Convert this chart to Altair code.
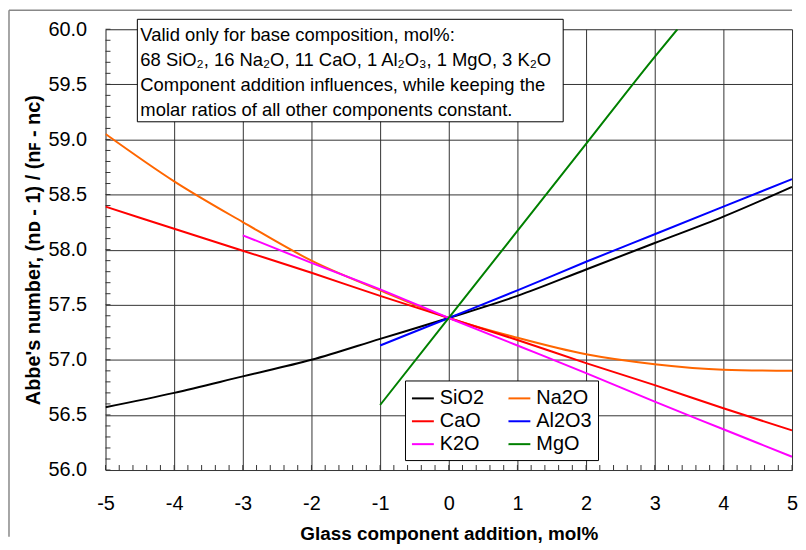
import altair as alt
import pandas as pd

FONT = "Liberation Sans"

# ---------------- data ----------------
# legend order (column-major in the 2-column legend)
components = ["SiO2", "CaO", "K2O", "Na2O", "Al2O3", "MgO"]
colors = ["#000000", "#FF0000", "#FF00FF", "#FF6600", "#0000FF", "#008000"]

x_sio2 = [-5, -4, -3, -2, -1, 0, 1, 2, 3, 4, 5]
y_sio2 = [56.57, 56.70, 56.85, 57.00, 57.19, 57.38, 57.58, 57.82, 58.06, 58.30, 58.57]

x_na2o = [-5, -4, -3, -2, -1, 0, 1, 2, 3, 4, 5]
y_na2o = [59.05, 58.62, 58.25, 57.90, 57.63, 57.38, 57.20, 57.05, 56.96, 56.91, 56.90]

x_cao = [-5, -4, -3, -2, -1, 0, 1, 2, 3, 4, 5]
y_cao = [58.39, 58.19, 57.99, 57.79, 57.58, 57.38, 57.18, 56.97, 56.77, 56.56, 56.36]

x_al2o3 = [-1, 0, 1, 2, 3, 4, 5]
y_al2o3 = [57.13, 57.38, 57.63, 57.89, 58.14, 58.39, 58.64]

x_k2o = [-3, -2, -1, 0, 1, 2, 3, 4, 5]
y_k2o = [58.13, 57.88, 57.64, 57.38, 57.13, 56.88, 56.62, 56.37, 56.12]

x_mgo = [-1, 0, 1, 2, 3, 3.33]
y_mgo = [56.59, 57.38, 58.17, 58.96, 59.75, 60.0]

x_ticks = [-5, -4, -3, -2, -1, 0, 1, 2, 3, 4, 5]
y_ticks = [56.0, 56.5, 57.0, 57.5, 58.0, 58.5, 59.0, 59.5, 60.0]
x_minor = [round(-5 + 0.2 * i, 1) for i in range(51)]
y_minor = [round(56 + 0.1 * i, 1) for i in range(41)]

note_lines = [
    "Valid only for base composition, mol%:",
    "68 SiO\u2082, 16 Na\u2082O, 11 CaO, 1 Al\u2082O\u2083, 1 MgO, 3 K\u2082O",
    "Component addition influences, while keeping the",
    "molar ratios of all other components constant.",
]

series = [
    ("SiO2", x_sio2, y_sio2),
    ("Na2O", x_na2o, y_na2o),
    ("CaO", x_cao, y_cao),
    ("Al2O3", x_al2o3, y_al2o3),
    ("K2O", x_k2o, y_k2o),
    ("MgO", x_mgo, y_mgo),
]
rows = []
for name, xs, ys in series:
    for i, (a, b) in enumerate(zip(xs, ys)):
        rows.append({"component": name, "x": a, "y": b, "i": i})
df = pd.DataFrame(rows)

# ---------------- layout ----------------
W, H = 690, 443
xscale = alt.Scale(domain=[-5, 5], nice=False, zero=False)
yscale = alt.Scale(domain=[56, 60], nice=False, zero=False)
GRID = "#333333"

x_axis = alt.Axis(
    values=x_ticks, grid=True, gridColor=GRID, gridOpacity=1, gridWidth=1,
    ticks=False, domain=False, labelFontSize=20, labelFont=FONT,
    labelExpr="replace(datum.label, '\u2212', '-')",
    labelColor="black", labelPadding=24, labelFlush=False, labelOverlap=False,
    title="Glass component addition, mol%", titleFont=FONT, titleFontSize=19,
    titleFontWeight="bold", titleColor="black", titlePadding=11)
y_axis = alt.Axis(
    values=y_ticks, format=".1f", grid=True, gridColor=GRID, gridOpacity=1,
    gridWidth=1, ticks=False, domain=False, labelFontSize=20, labelFont=FONT,
    labelColor="black", labelPadding=19, labelFlush=False, labelOverlap=False,
    title="Abbe's number, (n\u1d05 - 1) / (n\ua730 - n\u1d04)", titleFont=FONT,
    titleFontSize=20, titleFontWeight="bold", titleColor="black", titlePadding=4)

lines = alt.Chart(df).mark_line(strokeWidth=2, clip=True, interpolate="monotone").encode(
    x=alt.X("x:Q", scale=xscale, axis=x_axis),
    y=alt.Y("y:Q", scale=yscale, axis=y_axis),
    color=alt.Color("component:N", sort=components,
                    scale=alt.Scale(domain=components, range=colors),
                    legend=alt.Legend(
                        orient="none", legendX=301, legendY=353, title=None, columns=2,
                        symbolType="stroke", symbolSize=484, symbolStrokeWidth=2,
                        labelFontSize=20, labelFont=FONT, labelColor="black",
                        labelOffset=5, fillColor="white", strokeColor="black",
                        padding=6, rowPadding=1, columnPadding=20)),
    order="i:Q",
)

minor_x = alt.Chart(pd.DataFrame({"x": x_minor})).mark_rule(color=GRID, strokeWidth=1).encode(
    x=alt.X("x:Q", scale=xscale, axis=x_axis),
    y=alt.value(H), y2=alt.value(H - 5),
)
minor_y = alt.Chart(pd.DataFrame({"y": y_minor})).mark_rule(color=GRID, strokeWidth=1).encode(
    y=alt.Y("y:Q", scale=yscale, axis=y_axis),
    x=alt.value(0), x2=alt.value(5),
)

one = pd.DataFrame({"a": [0]})
note_box = alt.Chart(one).mark_rect(fill="white", stroke="black", strokeWidth=1).encode(
    x=alt.value(32), x2=alt.value(460), y=alt.value(-10), y2=alt.value(93),
)
note_text = alt.Chart(one).mark_text(
    text=note_lines, align="left", baseline="top", font=FONT, fontSize=18.5,
    lineHeight=25, color="black",
).encode(x=alt.value(35), y=alt.value(-3))

frame_top = alt.Chart(one).mark_rule(color="#888888", strokeWidth=1.5).encode(
    x=alt.value(-97), x2=alt.value(690), y=alt.value(-19),
)
frame_left = alt.Chart(one).mark_rule(color="#888888", strokeWidth=1.5).encode(
    x=alt.value(-97), y=alt.value(-19), y2=alt.value(510),
)

chart = alt.layer(
    frame_top, frame_left, minor_x, minor_y, lines, note_box, note_text
).properties(
    width=W, height=H, padding={"left": 0, "top": 0, "right": 0, "bottom": 0},
).configure_view(
    stroke="#222222", strokeWidth=1,
).configure(background="white")

chart.save("out.html", embed_options={"renderer": "svg", "actions": False})
